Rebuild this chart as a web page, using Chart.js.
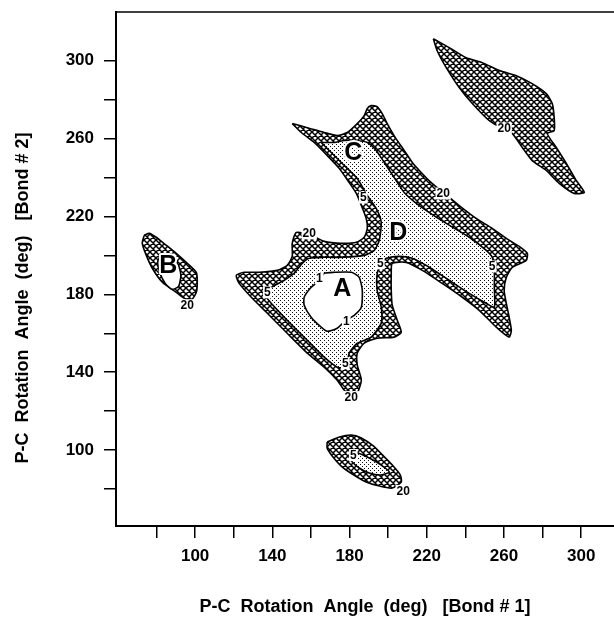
<!DOCTYPE html>
<html>
<head>
<meta charset="utf-8">
<script src="https://cdn.jsdelivr.net/npm/chart.js"></script>
<style>
  html, body { margin: 0; padding: 0; background: #fff; }
  #wrap { width: 614px; height: 619px; }
</style>
</head>
<body>
<div id="wrap"><canvas id="mapChart"></canvas></div>
<script>
// contour outlines, [bond1 angle, bond2 angle] in degrees

// big central region, 20 kcal contour (crosshatched)
const main20 = [
  [150.3,267.7],[158.1,265.6],[166.9,263.1],[173.6,261.5],[178.8,263.1],[184.0,267.7],[187.6,271.8],
  [189.2,275.4],[191.2,276.9],[194.3,276.4],[196.9,272.8],[199.5,267.7],[203.7,260.5],[208.3,253.9],
  [212.5,247.7],[217.1,242.6],[222.3,237.4],[229.1,231.8],[236.8,225.6],[245.6,219.0],[253.9,213.9],
  [261.2,208.7],[267.9,204.6],[272.1,201.0],[271.5,197.4],[264.3,193.8],[261.2,188.7],[260.1,182.0],
  [261.2,175.4],[262.7,168.2],[263.8,161.5],[262.7,158.0],[256.0,163.1],[247.2,171.8],[238.4,178.5],
  [228.0,185.6],[217.7,192.3],[209.4,196.4],[202.1,195.9],[201.6,189.8],[201.6,182.0],[202.1,174.4],
  [204.7,166.7],[206.8,160.5],[203.1,158.0],[194.3,157.4],[187.6,154.9],[184.0,149.8],[184.0,143.6],
  [186.1,135.9],[184.0,129.2],[180.9,127.2],[177.2,130.8],[173.6,135.9],[167.4,142.1],[158.1,149.8],
  [147.7,160.0],[137.4,170.3],[129.1,178.5],[122.8,185.6],[121.3,189.8],[125.4,191.3],[133.2,191.3],
  [142.5,192.3],[147.7,194.9],[150.3,199.5],[150.3,206.2],[152.4,211.8],[160.1,210.3],[166.9,207.2],
  [175.7,206.2],[183.5,206.7],[187.6,209.3],[189.2,213.9],[188.6,219.0],[186.1,225.6],[183.5,231.8],
  [179.8,237.4],[174.7,244.6],[168.4,251.3],[161.7,258.0],[155.0,263.1]
];

// big central region, 5 kcal contour (stippled)
const main5 = [
  [165.3,258.0],[172.1,258.0],[177.2,259.0],[183.5,259.0],[189.2,258.0],[193.8,253.9],[198.0,247.7],
  [203.1,240.0],[208.3,232.3],[216.1,225.6],[230.1,216.4],[242.0,209.3],[250.8,202.6],[253.9,199.0],
  [255.0,192.3],[255.0,183.6],[255.0,173.4],[250.8,175.4],[242.0,180.5],[231.6,187.2],[221.3,193.9],
  [212.5,198.5],[205.7,199.5],[199.0,198.5],[196.4,196.4],[194.3,190.8],[194.3,182.0],[196.4,173.4],
  [196.4,165.2],[191.2,158.0],[184.0,154.9],[179.8,149.8],[178.3,142.6],[173.6,142.6],[166.9,147.7],
  [158.1,156.4],[147.7,166.7],[139.4,175.4],[135.8,180.5],[139.4,183.6],[146.2,187.2],[151.3,190.8],
  [155.5,195.9],[159.1,198.5],[166.9,199.0],[177.2,199.0],[187.6,200.0],[192.8,202.6],[195.4,207.7],
  [196.4,217.0],[193.8,224.1],[189.2,230.8],[184.0,239.5],[175.7,247.7],[168.4,254.9]
];

// minimum A, 1 kcal contour
const minA1 = [
  [164.3,187.2],[166.9,190.8],[172.1,191.3],[180.9,191.3],[185.0,188.7],[186.6,182.0],[186.1,173.4],
  [182.4,169.2],[178.3,166.7],[173.6,162.6],[168.4,161.0],[165.3,163.1],[160.1,168.2],[156.5,174.4],
  [156.5,178.5],[160.1,183.6],[163.3,186.2]
];

// upper right island, 20 kcal
const upper20 = [
  [223.4,311.3],[231.6,306.7],[240.4,301.5],[248.7,299.0],[257.6,294.9],[266.4,292.3],[274.6,288.2],
  [281.9,283.1],[285.0,278.0],[286.0,270.8],[286.0,264.1],[282.4,262.6],[287.1,255.4],[292.3,247.2],
  [297.4,238.5],[301.6,232.3],[296.4,231.8],[288.6,237.0],[281.9,243.6],[274.6,248.7],[269.5,255.4],
  [264.3,262.6],[261.2,264.1],[252.4,269.2],[243.6,278.0],[236.8,286.2],[230.1,296.4],[225.4,305.1]
];

// minimum B
const minB20 = [
  [73.6,210.3],[76.2,211.3],[79.8,209.3],[85.0,205.2],[90.2,201.0],[95.4,196.4],[100.6,191.3],
  [101.1,186.2],[100.6,181.0],[98.0,177.0],[94.3,178.0],[90.2,181.0],[83.0,186.2],[77.8,193.4],
  [74.7,200.0],[72.6,206.2]
];
const minBInner = [
  [81.8,200.0],[86.6,201.0],[91.2,195.4],[92.6,189.8],[91.4,184.0],[88.1,182.6],[84.5,185.6],
  [81.6,191.3],[80.6,196.4]
];

// lower island
const lower20 = [
  [168.4,104.1],[174.7,106.7],[180.9,107.7],[186.1,106.2],[192.3,102.1],[197.5,97.0],[202.6,91.8],
  [206.3,87.2],[206.8,83.6],[202.1,80.5],[195.4,81.5],[188.6,83.6],[181.4,87.7],[175.7,91.8],
  [171.0,97.0],[168.4,101.0]
];
const lower5 = [
  [179.8,96.4],[184.0,98.5],[190.2,95.9],[196.4,92.3],[200.6,88.7],[196.4,87.2],[190.2,88.2],
  [185.0,90.8],[181.4,93.9]
];

// contour level labels [text, bond1, bond2]
const levelLabels = [
  ['20', 159.1, 211.3], ['20', 228.5, 231.8], ['20', 180.9, 127.2], ['20', 260.1, 265.1],
  ['20', 95.9, 174.4], ['20', 207.8, 79.0],
  ['5', 137.4, 181.0], ['5', 187.1, 229.7], ['5', 195.9, 195.9], ['5', 177.8, 144.6],
  ['5', 253.9, 194.3], ['5', 181.9, 97.4],
  ['1', 164.3, 188.2], ['1', 178.3, 166.2]
];
const regionLabels = [['A', 176.2, 183.1], ['B', 86.1, 194.9], ['C', 181.9, 252.9], ['D', 205.2, 211.8]];

const xTickValues = [80, 100, 120, 140, 160, 180, 200, 220, 240, 260, 280, 300];
const xTickLabels = ['', '100', '', '140', '', '180', '', '220', '', '260', '', '300'];
const yTickValues = [80, 100, 120, 140, 160, 180, 200, 220, 240, 260, 280, 300];
const yTickLabels = ['', '100', '', '140', '', '180', '', '220', '', '260', '', '300'];
const xTitle = 'P-C  Rotation  Angle  (deg)   [Bond # 1]';
const yTitle = 'P-C  Rotation  Angle  (deg)   [Bond # 2]';

const FONT = '"Liberation Sans", Arial, Helvetica, sans-serif';

// crosshatch texture: two sets of diagonal lines
function hatchPattern(step, lw) {
  const c = document.createElement('canvas');
  c.width = step; c.height = step;
  const g = c.getContext('2d');
  g.fillStyle = '#fff';
  g.fillRect(0, 0, step, step);
  g.strokeStyle = '#000';
  g.lineWidth = lw;
  g.beginPath();
  for (let o = -step; o <= step; o += step) {
    g.moveTo(o, 0); g.lineTo(o + step, step);
    g.moveTo(o + step, 0); g.lineTo(o, step);
  }
  g.stroke();
  return g.createPattern(c, 'repeat');
}
// stipple texture
function dotPattern() {
  const c = document.createElement('canvas');
  c.width = 4; c.height = 4;
  const g = c.getContext('2d');
  g.fillStyle = '#fff';
  g.fillRect(0, 0, 4, 4);
  g.fillStyle = '#111';
  g.fillRect(0, 0, 1, 1);
  g.fillRect(2, 2, 1, 1);
  return g.createPattern(c, 'repeat');
}
const hatch = hatchPattern(6, 1.5);
const dots = dotPattern();

function ring(points) {
  const d = points.map(p => ({x: p[0], y: p[1]}));
  d.push({x: points[0][0], y: points[0][1]});
  return d;
}

function region(points, fillStyle, order) {
  return {
    data: ring(points),
    showLine: true,
    fill: 'shape',
    backgroundColor: fillStyle,
    borderColor: '#000',
    borderWidth: 1.6,
    pointRadius: 0,
    pointHoverRadius: 0,
    tension: 0.2,
    order: order
  };
}

const labelPlugin = {
  id: 'labelPlugin',
  afterDatasetsDraw(chart) {
    const {ctx, scales: {x, y}, chartArea} = chart;
    ctx.save();
    ctx.textAlign = 'center';
    ctx.textBaseline = 'middle';
    ctx.font = 'bold 12px ' + FONT;
    levelLabels.forEach(([t, vx, vy]) => {
      const px = x.getPixelForValue(vx);
      const py = y.getPixelForValue(vy);
      const w = ctx.measureText(t).width + 2;
      ctx.fillStyle = '#fff';
      ctx.fillRect(px - w / 2, py - 6, w, 12);
      ctx.fillStyle = '#000';
      ctx.fillText(t, px, py + 0.5);
    });
    ctx.font = 'bold 25px ' + FONT;
    ctx.lineJoin = 'round';
    regionLabels.forEach(([t, vx, vy]) => {
      const px = x.getPixelForValue(vx);
      const py = y.getPixelForValue(vy);
      ctx.strokeStyle = '#fff';
      ctx.lineWidth = 4;
      ctx.strokeText(t, px, py + 1);
      ctx.fillStyle = '#000';
      ctx.fillText(t, px, py + 1);
    });
    // top frame line
    ctx.strokeStyle = '#000';
    ctx.lineWidth = 1.5;
    ctx.beginPath();
    ctx.moveTo(chartArea.left, chartArea.top);
    ctx.lineTo(chartArea.right, chartArea.top);
    ctx.stroke();
    // vertical axis title, sits a bit below the middle of the frame
    ctx.font = 'bold 18px ' + FONT;
    ctx.fillStyle = '#000';
    ctx.translate(23, 298);
    ctx.rotate(-Math.PI / 2);
    ctx.fillText(yTitle, 0, 0);
    ctx.restore();
  }
};

const ctx = document.getElementById('mapChart').getContext('2d');
new Chart(ctx, {
  type: 'scatter',
  data: {
    datasets: [
      region(minA1, '#fff', 1),
      region(minBInner, '#fff', 1),
      region(main5, dots, 2),
      region(lower5, dots, 2),
      region(main20, hatch, 3),
      region(upper20, hatch, 3),
      region(minB20, hatch, 3),
      region(lower20, hatch, 3)
    ]
  },
  options: {
    responsive: true,
    maintainAspectRatio: false,
    animation: false,
    events: [],
    layout: { padding: { top: 12, right: 0, left: 0, bottom: 0 } },
    plugins: {
      legend: { display: false },
      tooltip: { enabled: false }
    },
    scales: {
      x: {
        type: 'linear',
        min: 59,
        max: 317,
        afterBuildTicks: s => { s.ticks = xTickValues.map(v => ({value: v})); },
        afterFit: s => { s.height = 93; s.paddingLeft = 0; s.paddingRight = 0; },
        grid: { drawOnChartArea: false, drawTicks: true, tickLength: 12, color: '#000', lineWidth: 1.5 },
        border: { display: true, color: '#000', width: 2 },
        ticks: {
          color: '#000',
          padding: 8,
          maxRotation: 0,
          autoSkip: false,
          font: { family: FONT, size: 17, weight: 'bold' },
          callback: (v, i) => xTickLabels[i]
        },
        title: {
          display: true,
          text: xTitle,
          color: '#000',
          font: { family: FONT, size: 18, weight: 'bold' },
          padding: { top: 0, bottom: 1 }
        }
      },
      y: {
        type: 'linear',
        min: 61,
        max: 325,
        afterBuildTicks: s => { s.ticks = yTickValues.map(v => ({value: v})); },
        afterFit: s => { s.width = 116; s.paddingTop = 0; s.paddingBottom = 0; },
        grid: { drawOnChartArea: false, drawTicks: true, tickLength: 12, color: '#000', lineWidth: 1.5 },
        border: { display: true, color: '#000', width: 2 },
        ticks: {
          color: '#000',
          padding: 10,
          autoSkip: false,
          font: { family: FONT, size: 17, weight: 'bold' },
          callback: (v, i) => yTickLabels[i]
        }
      }
    }
  },
  plugins: [labelPlugin]
});
</script>
</body>
</html>
